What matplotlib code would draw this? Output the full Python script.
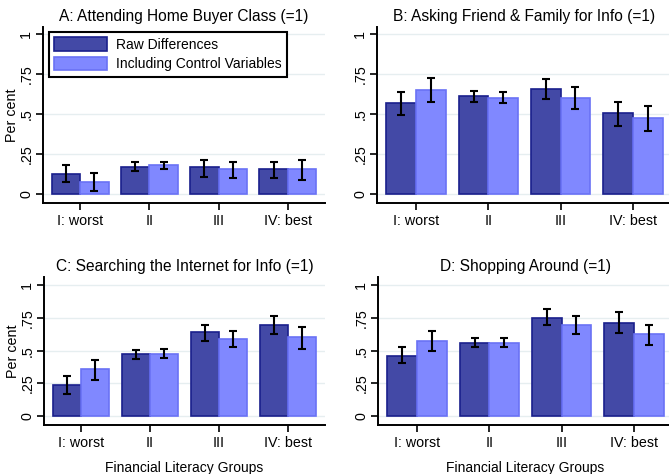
"""Four-panel bar chart: search behaviour by financial literacy group."""

import numpy as np
import matplotlib
matplotlib.use("Agg")
import matplotlib.pyplot as plt

plt.rcParams["font.family"] = ["Liberation Sans", "DejaVu Sans"]

groups = ["I: worst", "II", "III", "IV: best"]
series_names = ["Raw Differences", "Including Control Variables"]
titles = ["A: Attending Home Buyer Class (=1)",
          "B: Asking Friend & Family for Info (=1)",
          "C: Searching the Internet for Info (=1)",
          "D: Shopping Around (=1)"]

# bar heights and confidence interval bounds per panel
raw_vals = [[0.125, 0.171, 0.171, 0.159],
            [0.566, 0.612, 0.658, 0.509],
            [0.240, 0.477, 0.643, 0.699],
            [0.462, 0.556, 0.753, 0.712]]
raw_lo = [[0.077, 0.144, 0.109, 0.098],
          [0.495, 0.576, 0.597, 0.426],
          [0.168, 0.434, 0.571, 0.625],
          [0.403, 0.528, 0.694, 0.638]]
raw_hi = [[0.180, 0.200, 0.213, 0.200],
          [0.635, 0.647, 0.722, 0.576],
          [0.309, 0.503, 0.694, 0.765],
          [0.528, 0.597, 0.819, 0.793]]

ctrl_vals = [[0.077, 0.180, 0.159, 0.159],
             [0.649, 0.601, 0.601, 0.478],
             [0.362, 0.477, 0.587, 0.602],
             [0.571, 0.556, 0.696, 0.628]]
ctrl_lo = [[0.019, 0.157, 0.098, 0.088],
           [0.574, 0.566, 0.532, 0.395],
           [0.278, 0.446, 0.528, 0.513],
           [0.500, 0.528, 0.625, 0.541]]
ctrl_hi = [[0.134, 0.198, 0.200, 0.213],
           [0.724, 0.635, 0.666, 0.553],
           [0.431, 0.513, 0.653, 0.681],
           [0.653, 0.597, 0.763, 0.694]]

yticks = [0, 0.25, 0.5, 0.75, 1]
ytick_labels = ["0", ".25", ".5", ".75", "1"]

DARK, DARK_EDGE = "#4349a6", "#1a1f8c"
LIGHT, LIGHT_EDGE = "#8088ff", "#6a72f5"
GRID = "#e6eef0"

W, H = 669, 474
fig = plt.figure(figsize=(W / 100, H / 100), dpi=100)


def px_box(left, right, top, bottom):
    return [left / W, (H - bottom) / H, (right - left) / W, (bottom - top) / H]


# pixel boxes (left, right, top, bottom) and y-limits for each panel
boxes = [px_box(43, 325, 27, 203), px_box(377, 672, 27, 203),
         px_box(44, 325, 277, 425), px_box(378, 673, 277, 425)]
ylims = [(-0.056, 1.044), (-0.056, 1.044), (-0.069, 1.064), (-0.069, 1.064)]

x = np.arange(len(groups))
bw = 0.41

for k in range(4):
    ax = fig.add_axes(boxes[k])
    for yv in yticks:
        ax.axhline(yv, color=GRID, lw=1.0, zorder=0)

    rv = np.array(raw_vals[k])
    cv = np.array(ctrl_vals[k])
    ax.bar(x - bw / 2, rv, bw, color=DARK, edgecolor=DARK_EDGE, lw=1.2,
           label=series_names[0], zorder=2)
    ax.bar(x + bw / 2, cv, bw, color=LIGHT, edgecolor=LIGHT_EDGE, lw=1.2,
           label=series_names[1], zorder=2)

    r_err = [rv - np.array(raw_lo[k]), np.array(raw_hi[k]) - rv]
    c_err = [cv - np.array(ctrl_lo[k]), np.array(ctrl_hi[k]) - cv]
    ax.errorbar(x - bw / 2, rv, yerr=r_err, fmt="none", ecolor="black",
                elinewidth=1.5, capsize=3, capthick=1.5, zorder=3)
    ax.errorbar(x + bw / 2, cv, yerr=c_err, fmt="none", ecolor="black",
                elinewidth=1.5, capsize=3, capthick=1.5, zorder=3)

    ax.set_xlim(-0.54, 3.54)
    ax.set_ylim(*ylims[k])
    ax.set_xticks(x)
    ax.set_xticklabels(groups, fontsize=10.3)
    ax.set_yticks(yticks)
    ax.set_yticklabels(ytick_labels, fontsize=10.3, rotation=90, va="center")
    ax.tick_params(axis="both", length=5, width=1.2, direction="out", pad=3)
    ax.tick_params(axis="y", pad=2)

    for side in ("top", "right"):
        ax.spines[side].set_visible(False)
    for side in ("left", "bottom"):
        ax.spines[side].set_linewidth(1.4)

    ax.set_title(titles[k], fontsize=11.2, pad=4)
    if k % 2 == 0:
        ax.set_ylabel("Per cent", fontsize=10.3, labelpad=0)
    if k >= 2:
        ax.set_xlabel("Financial Literacy Groups", fontsize=10, labelpad=8)

    if k == 0:
        leg = ax.legend(loc="upper left", bbox_to_anchor=(0.021, 0.972),
                        borderaxespad=0, fontsize=10, handlelength=3.75,
                        handleheight=1.1, labelspacing=0.35, fancybox=False,
                        framealpha=1, borderpad=0.4, handletextpad=0.7)
        leg.get_frame().set_edgecolor("black")
        leg.get_frame().set_linewidth(1.5)

fig.savefig("out.png", dpi=100)
